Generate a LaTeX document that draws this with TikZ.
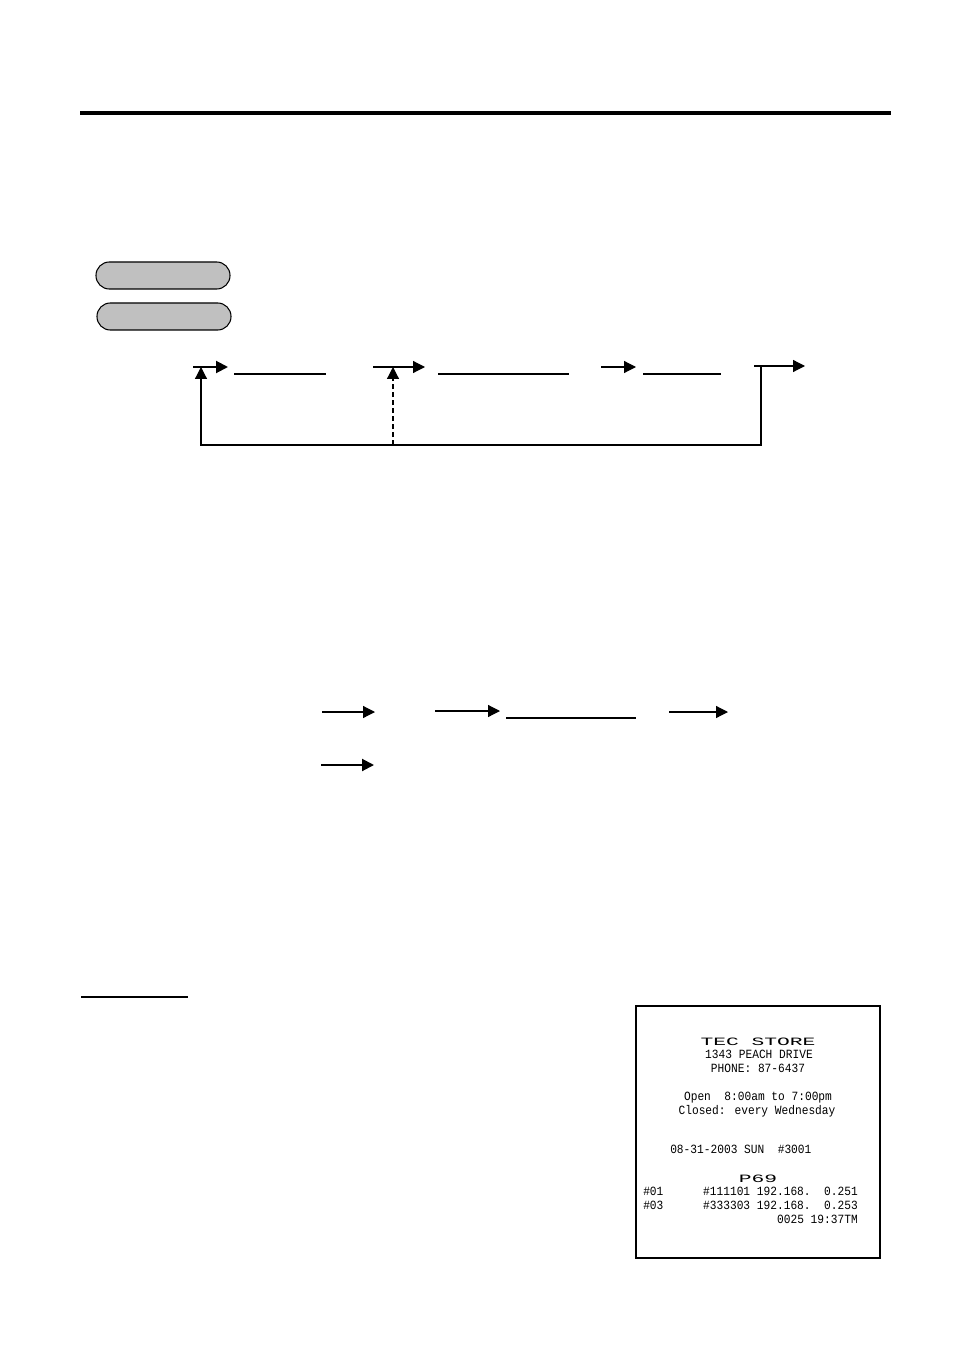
\documentclass[tikz,border=0pt]{standalone}
\usepackage{fontspec}
\newfontfamily\rcptfont{Liberation Mono}
\usetikzlibrary{arrows.meta,positioning}
\definecolor{keygray}{RGB}{192,192,192}
\tikzset{
    %Define standard arrow tip
    >={Triangle[length=9pt,width=9pt]},
    %Define style for keys
    keypill/.style={
           rectangle,
           rounded corners=10pt,
           draw=black, thick,
           fill=keygray,
           minimum width=100.5pt,
           minimum height=20.25pt},
    % Define arrow style
    flow/.style={
           ->,
           line width=0.9pt},
    heavyflow/.style={
           ->,
           line width=1.5pt},
    blank/.style={
           line width=0.8pt},
    % Define receipt text
    rcpt/.style={
           font=\rcptfont\fontsize{8.4}{9}\selectfont,
           inner sep=0pt}
}
\newcommand{\wide}[1]{\scalebox{1.9}[1]{#1}}
\newcommand{\tall}[1]{\scalebox{1}[1.12]{#1}}

\begin{document}
\begin{tikzpicture}[x=0.75pt,y=-0.75pt]
         \useasboundingbox (0,0) rectangle (954,1351);
         %heading rule
          \draw[line width=3pt] (80,113) -- (891,113);
         %keys
          \node[keypill] (keyA) at (163,275.5) {};
          \node[keypill] (keyB) at (164,316.5) {};
         %first sequence
          \coordinate (inA) at (193,367);
          \coordinate (inB) at (228,367);
          \coordinate (midA) at (373,367);
          \coordinate (midB) at (425,367);
          \coordinate (nxtA) at (601,367);
          \coordinate (nxtB) at (636,367);
          \coordinate (outA) at (754,366);
          \coordinate (outB) at (805,366);
          \coordinate (turn) at (761,366);
          \coordinate (loopR) at (761,445);
          \coordinate (loopL) at (201,445);
          \coordinate (loopM) at (393,445);
          \draw[heavyflow] (inA) -- (inB);
          \draw[flow] (midA) -- (midB);
          \draw[flow] (nxtA) -- (nxtB);
          \draw[flow] (outA) -- (outB);
          \draw[flow] (turn) -- (loopR) -- (loopL) -- (loopL |- inA);
          \draw[flow, dash pattern=on 4pt off 2pt] (loopM) -- (loopM |- midA);
          \draw[blank] (234,374) -- (326,374);
          \draw[blank] (438,374) -- (569,374);
          \draw[blank] (643,374) -- (721,374);
         %second sequence
          \coordinate (p1) at (322,712);
          \coordinate (p2) at (375,712);
          \coordinate (p3) at (435,711);
          \coordinate (p4) at (500,711);
          \coordinate (p5) at (669,712);
          \coordinate (p6) at (728,712);
          \coordinate (q1) at (321,765);
          \coordinate (q2) at (374,765);
          \draw[flow] (p1) -- (p2);
          \draw[flow] (p3) -- (p4);
          \draw[flow] (p5) -- (p6);
          \draw[heavyflow] (q1) -- (q2);
          \draw[blank] (506,718) -- (636,718);
         %example heading
          \draw[line width=1.1pt] (81,997) -- (188,997);
         %receipt
          \draw[line width=0.8pt] (636,1006) rectangle (880,1258);
          \node[rcpt, anchor=base] (store) at (758,1045) {\wide{TEC STORE}};
          \node[rcpt, anchor=base] (addr) at (759,1058) {\tall{1343 PEACH DRIVE}};
          \node[rcpt, anchor=base] (phone) at (758,1072) {\tall{PHONE: 87-6437}};
          \node[rcpt, anchor=base] (open) at (758,1100) {\tall{Open\ \ 8:00am to 7:00pm}};
          \node[rcpt, anchor=base] (closed) at (757,1114) {\tall{Closed: every Wednesday}};
          \node[rcpt, anchor=base west] (date) at (670,1153) {\tall{08-31-2003 SUN\ \ \#3001}};
          \node[rcpt, anchor=base] (title) at (758,1182) {\wide{P69}};
          \node[rcpt, anchor=base west] (rowA) at (643,1195) {\tall{\#01}};
          \node[rcpt, anchor=base east] (ipA) at (858,1195) {\tall{\#111101 192.168.\ \ 0.251}};
          \node[rcpt, anchor=base west] (rowB) at (643,1209) {\tall{\#03}};
          \node[rcpt, anchor=base east] (ipB) at (858,1209) {\tall{\#333303 192.168.\ \ 0.253}};
          \node[rcpt, anchor=base east] (stamp) at (858,1223) {\tall{0025 19:37TM}};
        \end{tikzpicture}
\end{document}
